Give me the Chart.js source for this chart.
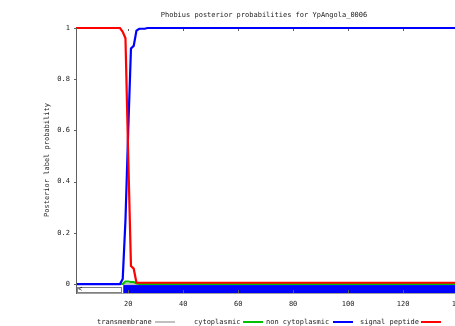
<!DOCTYPE html>
<html>
<head>
<meta charset="utf-8">
<script src="https://cdn.jsdelivr.net/npm/chart.js@4/dist/chart.umd.min.js"></script>
<style>
  html, body { margin: 0; padding: 0; overflow: hidden; background: #fff; }
  #wrap { position: absolute; left: 0; top: 0; width: 528px; height: 326px; }
</style>
</head>
<body>
<div id="wrap"><canvas id="phobius" width="528" height="326"></canvas></div>
<script>
// Posiciones de residuos y probabilidades
const posiciones = [1, 17, 18, 19, 20, 21, 22, 23, 24, 26, 27, 140];
const transmembrana = [0, 0, 0, 0, 0, 0, 0, 0, 0, 0, 0, 0];
const citoplasmico = [0, 0, 0, 0.01, 0.01, 0.008, 0.008, 0.002, 0, 0, 0, 0];
const noCitoplasmico = [0, 0, 0.02, 0.25, 0.6, 0.92, 0.93, 0.99, 0.997, 0.997, 1, 1];
const peptidoSenal = [1, 1, 0.985, 0.96, 0.5, 0.07, 0.06, 0.005, 0.005, 0.005, 0.005, 0.005];

// Topologia predicha (banda bajo el eje)
const regionInicio = [1, 18.2];
const regionFin = [18.2, 140];
const regionTipo = ['signal', 'noncyto'];

const ticksX = [20, 40, 60, 80, 100, 120, 140];
const ticksY = [0, 0.2, 0.4, 0.6, 0.8, 1];

const titulo = 'Phobius posterior probabilities for YpAngola_0006';
const leyendaTextos = ['transmembrane', 'cytoplasmic', 'non cytoplasmic', 'signal peptide'];
const leyendaColores = ['#c0c0c0', '#00c000', '#0000ff', '#ff0000'];

const fuente = '7px "DejaVu Sans Mono"';

function puntos(valores) {
    return posiciones.map((x, i) => ({ x: x, y: valores[i] }));
}

// Plugin para titulo, bordes, ticks, banda de topologia y leyenda
const extras = {
    id: 'extras',
    beforeDatasetsDraw(chart) {
        const ctx = chart.ctx;
        const xs = chart.scales.x;
        const ys = chart.scales.y;
        ctx.save();
        for (let i = 0; i < regionTipo.length; i++) {
            const x0 = xs.getPixelForValue(regionInicio[i]);
            const x1 = xs.getPixelForValue(regionFin[i]);
            if (regionTipo[i] === 'noncyto') {
                const y0 = ys.getPixelForValue(-0.004);
                const y1 = ys.getPixelForValue(-0.035);
                ctx.fillStyle = '#0000ff';
                ctx.fillRect(x0, y0, x1 - x0, y1 - y0);
            } else {
                const y0 = ys.getPixelForValue(-0.012);
                const y1 = ys.getPixelForValue(-0.031);
                ctx.fillStyle = '#fff';
                ctx.fillRect(x0 + 1, y0, x1 - x0 - 2, y1 - y0);
                ctx.strokeStyle = '#000';
                ctx.lineWidth = 1;
                ctx.setLineDash([1, 1]);
                ctx.strokeRect(Math.round(x0) + 1.5, Math.round(y0) + 0.5, Math.round(x1 - x0) - 3, Math.round(y1 - y0));
                ctx.setLineDash([]);
                ctx.font = fuente;
                ctx.fillStyle = '#000';
                ctx.textBaseline = 'middle';
                ctx.textAlign = 'left';
                ctx.fillText('<', x0 + 2, (y0 + y1) / 2);
            }
        }
        ctx.restore();
    },
    afterDraw(chart) {
        const ctx = chart.ctx;
        const a = chart.chartArea;
        const xs = chart.scales.x;
        const ys = chart.scales.y;
        ctx.save();
        // bordes
        ctx.strokeStyle = '#a0a0a0';
        ctx.lineWidth = 1;
        ctx.beginPath();
        ctx.moveTo(a.left, a.bottom + 0.5);
        ctx.lineTo(a.right, a.bottom + 0.5);
        ctx.stroke();
        ctx.strokeStyle = '#606060';
        ctx.beginPath();
        ctx.moveTo(a.left + 0.5, a.top);
        ctx.lineTo(a.left + 0.5, a.bottom + 1);
        ctx.stroke();
        // ticks
        ctx.strokeStyle = '#606060';
        ctx.beginPath();
        ticksX.forEach(v => {
            const p = Math.round(xs.getPixelForValue(v)) + 0.5;
            ctx.moveTo(p, a.top + 1);
            ctx.lineTo(p, a.top + 3);
            ctx.moveTo(p, a.bottom);
            ctx.lineTo(p, a.bottom - 3);
        });
        ticksY.forEach(v => {
            const p = Math.round(ys.getPixelForValue(v)) + 0.5;
            ctx.moveTo(a.left - 2, p);
            ctx.lineTo(a.left, p);
        });
        ctx.stroke();
        // titulo
        ctx.font = fuente;
        ctx.fillStyle = '#222';
        ctx.textAlign = 'center';
        ctx.textBaseline = 'middle';
        ctx.fillText(titulo, 264, 15);
        // titulo eje y
        ctx.save();
        ctx.translate(47, 160);
        ctx.rotate(-Math.PI / 2);
        ctx.fillText('Posterior label probability', 0, 0);
        ctx.restore();
        // leyenda
        const textoX = [97, 194, 266, 360];
        const lineaX = [155, 243, 333, 421];
        ctx.textAlign = 'left';
        leyendaTextos.forEach((t, i) => {
            ctx.fillStyle = '#222';
            ctx.fillText(t, textoX[i], 322);
            ctx.strokeStyle = leyendaColores[i];
            ctx.lineWidth = 2;
            ctx.beginPath();
            ctx.moveTo(lineaX[i], 322);
            ctx.lineTo(lineaX[i] + 20, 322);
            ctx.stroke();
        });
        ctx.restore();
    }
};

const ctx = document.getElementById('phobius').getContext('2d');

new Chart(ctx, {
    type: 'line',
    data: {
        datasets: [{
            label: 'transmembrane',
            data: puntos(transmembrana),
            borderColor: '#c0c0c0',
            borderWidth: 2,
            clip: false,
            order: 4
        }, {
            label: 'cytoplasmic',
            data: puntos(citoplasmico),
            borderColor: '#00c000',
            borderWidth: 2,
            clip: false,
            order: 3
        }, {
            label: 'non cytoplasmic',
            data: puntos(noCitoplasmico),
            borderColor: '#0000ff',
            borderWidth: 2.2,
            clip: false,
            order: 2
        }, {
            label: 'signal peptide',
            data: puntos(peptidoSenal),
            borderColor: '#ff0000',
            borderWidth: 2.2,
            clip: false,
            order: 1
        }]
    },
    options: {
        responsive: false,
        animation: false,
        devicePixelRatio: 1,
        elements: {
            point: { radius: 0 },
            line: { tension: 0, borderJoinStyle: 'miter' }
        },
        layout: { padding: { left: 0, top: 28, right: 70, bottom: 0 } },
        plugins: {
            legend: { display: false },
            title: { display: false },
            tooltip: { enabled: false }
        },
        scales: {
            x: {
                type: 'linear',
                min: 1,
                max: 140,
                afterFit: s => { s.height = 33; },
                afterBuildTicks: s => { s.ticks = ticksX.map(v => ({ value: v })); },
                grid: { display: false, drawTicks: false },
                border: { display: false },
                ticks: { font: { family: 'DejaVu Sans Mono', size: 7 }, color: '#222', padding: 7, maxRotation: 0 }
            },
            y: {
                type: 'linear',
                min: -0.035,
                max: 1,
                afterFit: s => { s.width = 76; },
                afterBuildTicks: s => { s.ticks = ticksY.map(v => ({ value: v })); },
                grid: { display: false, drawTicks: false },
                border: { display: false },
                ticks: {
                    font: { family: 'DejaVu Sans Mono', size: 7 },
                    color: '#222',
                    padding: 6,
                    callback: v => String(v)
                }
            }
        }
    },
    plugins: [extras]
});
</script>
</body>
</html>
